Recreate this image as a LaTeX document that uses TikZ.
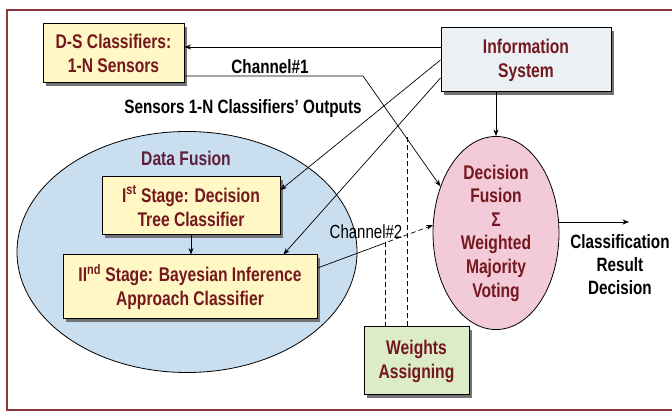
\documentclass[tikz,border=0pt]{standalone}
\usepackage{fontspec}
\setmainfont{Liberation Sans}[FakeStretch=0.79]
\usetikzlibrary{arrows.meta,shapes.geometric,shadows,calc}
\definecolor{txtred}{HTML}{74181E}
\definecolor{dfred}{HTML}{5E1F3C}
\definecolor{yellowbox}{HTML}{FFF7C4}
\definecolor{greybox}{HTML}{EAF0F4}
\definecolor{greenbox}{HTML}{DCEBC8}
\definecolor{blueell}{HTML}{C9DFF0}
\definecolor{pinkell}{HTML}{F3CAD8}
\definecolor{framecol}{HTML}{8A3A3A}
\begin{document}
\begin{tikzpicture}[x=1pt,y=-1pt,
  boxtext/.style={font=\bfseries\fontsize{19.8}{24}\selectfont,text=txtred,align=center},
  labtext/.style={font=\bfseries\fontsize{19.3}{23}\selectfont,text=black,align=center},
  shad/.style={drop shadow={shadow xshift=3pt,shadow yshift=-3pt,fill=black!55,opacity=1}},
  boxnode/.style={draw=black,line width=1pt,shad,inner sep=2pt,boxtext},
  arr/.style={-{Stealth[length=6.5pt,width=5pt]},line width=0.7pt},
  plainline/.style={line width=0.7pt},
  dashline/.style={line width=0.7pt,dash pattern=on 5pt off 3pt}
]
\useasboundingbox (0,0) rectangle (672,419);
\clip (0,0) rectangle (672,419);
\fill[white] (0,0) rectangle (672,419);
\draw[framecol,line width=1.2pt] (7,10) rectangle (700,410);

% ellipses
\node[ellipse,draw=black,line width=0.8pt,fill=blueell,minimum width=340,minimum height=241,inner sep=0pt] (df) at (187,252) {};
\node[ellipse,draw=black,line width=0.8pt,fill=pinkell,minimum width=126,minimum height=188,inner sep=0pt,boxtext,font=\bfseries\fontsize{19.8}{23.6}\selectfont] (fusion) at (496,233) {Decision\\Fusion\\Σ\\Weighted\\Majority\\Voting};

% boxes
\node[boxnode,fill=yellowbox,minimum width=141,minimum height=59] (ds) at (113.5,53.5) {D-S Classifiers:\\1-N Sensors};
\node[boxnode,fill=greybox,minimum width=170,minimum height=64] (info) at (526,60) {Information\\System};
\node[boxnode,fill=yellowbox,minimum width=178,minimum height=58] (st1) at (191,206) {I\textsuperscript{st} Stage: Decision\\Tree Classifier};
\node[boxnode,fill=yellowbox,minimum width=254,minimum height=64] (st2) at (190,287) {II\textsuperscript{nd} Stage: Bayesian Inference\\Approach Classifier};
\node[boxnode,fill=greenbox,minimum width=105,minimum height=68] (wa) at (416.5,361) {Weights\\Assigning};

% labels
\node[boxtext,text=dfred] (dflab) at (186,158) {Data Fusion};
\node[labtext] (ch1lab) at (270,67) {Channel\#1};
\node[labtext] (senslab) at (243,109) {Sensors 1-N Classifiers' Outputs};
\node[font=\fontsize{19}{23}\selectfont,text=black] (ch2lab) at (366,232) {Channel\#2};
\node[labtext] (outlab) at (620,265) {Classification\\Result\\Decision};

% connectors
\draw[arr] ([yshift=13pt]info.west) -- ([yshift=13pt]info.west -| ds.east);
\coordinate (c1) at (363,76);
\draw[arr] ([yshift=-22.5pt]ds.east) -- (c1) -- (fusion.140);
\draw[arr] (info.west) -- ([yshift=16pt]st1.east);
\draw[arr] ([yshift=-18pt]info.west) -- ([xshift=-34pt]st2.north east);
\draw[arr] (fusion.north |- info.south) -- (fusion.north);
\draw[arr] (st1.south) -- (st1.south |- st2.north);
\coordinate (c2a) at ([yshift=19pt]st2.east);
\coordinate (c2m) at ($(c2a)!0.55!(fusion.173)$);
\draw[plainline] (c2a) -- (c2m);
\draw[arr,dash pattern=on 5pt off 3pt] (c2m) -- (fusion.173);
\coordinate (out) at (629,222);
\draw[arr] ([yshift=11pt]fusion.east) -- (out);
\coordinate (d1) at (407,137.5);
\coordinate (d2) at (385,241.6);
\draw[dashline] (d1) -- (d1 |- wa.north);
\draw[dashline] (d2) -- (d2 |- wa.north);
\end{tikzpicture}
\end{document}
